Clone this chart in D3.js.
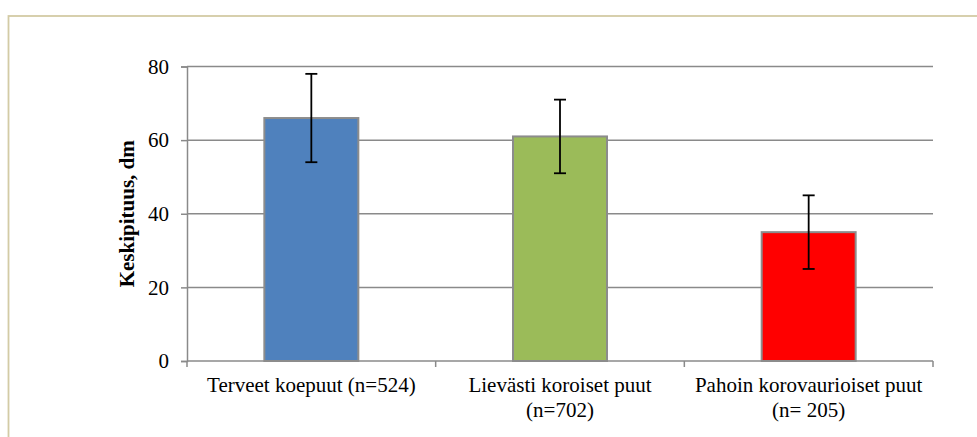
<!DOCTYPE html>
<html>
<head>
<meta charset="utf-8">
<script src="https://cdn.jsdelivr.net/npm/d3@7/dist/d3.min.js"></script>
<style>
  html, body { margin: 0; padding: 0; background: #fff; }
  svg { display: block; }
  text { font-family: "Liberation Serif", "Times New Roman", serif; fill: #000; }
</style>
</head>
<body>
<svg id="chart" width="977" height="437"></svg>
<script>
// Category labels (one entry per drawn line)
const categoryLines = [
  ["Terveet koepuut (n=524)"],
  ["Lievästi koroiset puut", "(n=702)"],
  ["Pahoin korovaurioiset puut", "(n= 205)"]
];
const categories = categoryLines.map(l => l.join(" "));
// Mean height (dm) and error bar half-width
const means = [66, 61, 35];
const errors = [12, 10, 10];
const barColors = ["#4f81bd", "#9bbb59", "#ff0000"];
const yTicks = [0, 20, 40, 60, 80];
const yTitle = "Keskipituus, dm";

const svg = d3.select("#chart");
const gridColor = "#8a8a8a";

// chart frame
svg.append("rect")
  .attr("x", 8.5).attr("y", 16)
  .attr("width", 1000).attr("height", 500)
  .attr("fill", "#fff")
  .attr("stroke", "#d3cba5")
  .attr("stroke-width", 1.8);

const plot = { left: 187, right: 933, top: 66.5, bottom: 361 };

const x = d3.scaleBand()
  .domain(categories)
  .range([plot.left, plot.right])
  .paddingInner(0).paddingOuter(0);

const y = d3.scaleLinear()
  .domain([0, 80])
  .range([plot.bottom, plot.top]);

// horizontal gridlines
svg.append("g")
  .selectAll("line")
  .data(yTicks.filter(t => t > 0))
  .join("line")
  .attr("x1", plot.left).attr("x2", plot.right)
  .attr("y1", d => y(d)).attr("y2", d => y(d))
  .attr("stroke", gridColor).attr("stroke-width", 1.5);

// y axis
const yAxis = svg.append("g")
  .attr("transform", `translate(${plot.left},0)`)
  .call(d3.axisLeft(y).tickValues(yTicks).tickSize(6).tickPadding(12).tickFormat(d3.format("d")));
yAxis.select(".domain").attr("stroke", gridColor).attr("stroke-width", 1.5);
yAxis.selectAll(".tick line").attr("stroke", gridColor).attr("stroke-width", 1.5);
yAxis.selectAll(".tick text")
  .attr("font-family", "Liberation Serif, serif")
  .attr("font-size", 21).attr("fill", "#000");

// x axis: line with ticks at category boundaries
const xg = svg.append("g");
xg.append("line")
  .attr("x1", plot.left).attr("x2", plot.right)
  .attr("y1", plot.bottom).attr("y2", plot.bottom)
  .attr("stroke", gridColor).attr("stroke-width", 1.5);
const boundaries = categories.map(c => x(c)).concat([x(categories[categories.length - 1]) + x.bandwidth()]);
xg.selectAll("line.tk")
  .data(boundaries)
  .join("line").attr("class", "tk")
  .attr("x1", d => d).attr("x2", d => d)
  .attr("y1", plot.bottom).attr("y2", plot.bottom + 6)
  .attr("stroke", gridColor).attr("stroke-width", 1.5);

// category labels
const labels = xg.selectAll("text.cat")
  .data(categoryLines)
  .join("text").attr("class", "cat")
  .attr("text-anchor", "middle")
  .attr("font-size", 21)
  .attr("transform", (d, i) => `translate(${x(categories[i]) + x.bandwidth() / 2},${plot.bottom + 31})`);
labels.selectAll("tspan")
  .data(d => d)
  .join("tspan")
  .attr("x", 0)
  .attr("dy", (d, i) => i === 0 ? 0 : 25)
  .text(d => d);

// bars
const barW = x.bandwidth() * 0.378;
svg.append("g")
  .selectAll("rect")
  .data(means)
  .join("rect")
  .attr("x", (d, i) => x(categories[i]) + (x.bandwidth() - barW) / 2)
  .attr("y", d => y(d))
  .attr("width", barW)
  .attr("height", d => y(0) - y(d))
  .attr("fill", (d, i) => barColors[i])
  .attr("stroke", "#8c8c8c")
  .attr("stroke-width", 2);

// error bars
const eb = svg.append("g").attr("stroke", "#000").attr("stroke-width", 1.8);
means.forEach((m, i) => {
  const cx = x(categories[i]) + x.bandwidth() / 2;
  const hi = y(m + errors[i]), lo = y(m - errors[i]);
  eb.append("line").attr("x1", cx).attr("x2", cx).attr("y1", hi).attr("y2", lo);
  eb.append("line").attr("x1", cx - 6).attr("x2", cx + 6).attr("y1", hi).attr("y2", hi);
  eb.append("line").attr("x1", cx - 6).attr("x2", cx + 6).attr("y1", lo).attr("y2", lo);
});

// y axis title
svg.append("text")
  .attr("transform", `translate(134,${(plot.top + plot.bottom) / 2}) rotate(-90)`)
  .attr("text-anchor", "middle")
  .attr("font-size", 21)
  .attr("font-weight", "bold")
  .text(yTitle);
</script>
</body>
</html>
